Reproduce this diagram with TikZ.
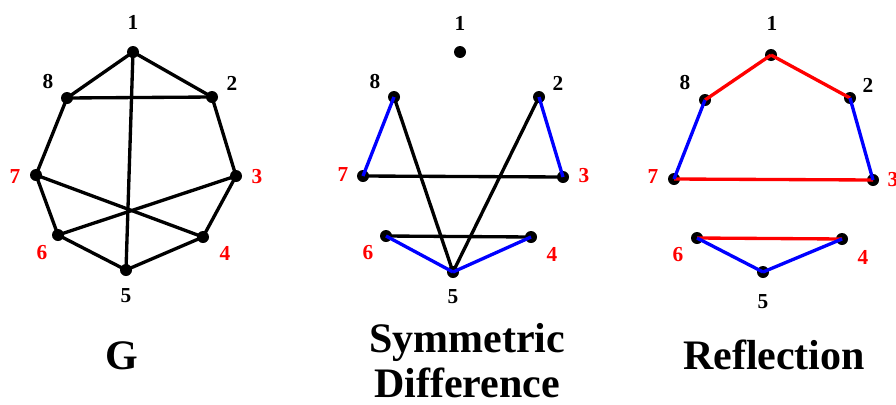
\documentclass[tikz,border=0pt]{standalone}
\usepackage{fontspec}
\setmainfont{Liberation Serif}
\begin{document}
\begin{tikzpicture}[x=0.75pt,y=-0.75pt,
	vtx/.style={circle,fill=black,inner sep=0pt,minimum size=9pt},
	num/.style={font=\fontsize{16}{19}\selectfont\bfseries},
	rnum/.style={num,text=red},
	ttl/.style={font=\fontsize{31.5}{37}\selectfont\bfseries,anchor=base},
	edge/.style={line width=2.5pt},
	bedge/.style={edge,color=blue},
	redge/.style={edge,color=red}]
	\useasboundingbox (0,0) rectangle (896,404);
	
	%G
	\node[vtx] at (133,52) (g1) {};
	\node[vtx] at (212,97) (g2) {};
	\node[vtx] at (236,176) (g3) {};
	\node[vtx] at (203,237) (g4) {};
	\node[vtx] at (126,270) (g5) {};
	\node[vtx] at (58,235) (g6) {};
	\node[vtx] at (36,175) (g7) {};
	\node[vtx] at (67,98) (g8) {};
	\node[num] at (133,22) (gl1) {1};
	\node[num] at (232,83) (gl2) {2};
	\node[rnum] at (257,177) (gl3) {3};
	\node[rnum] at (225,253) (gl4) {4};
	\node[num] at (126,296) (gl5) {5};
	\node[rnum] at (42,253) (gl6) {6};
	\node[rnum] at (15,177) (gl7) {7};
	\node[num] at (48,82) (gl8) {8};
	\foreach \a/\b in {1/8,1/2,8/2,1/5,8/7,2/3,7/4,3/6,7/6,3/4,6/5,4/5}
		\draw[edge] (g\a.center)--(g\b.center);
	\node[ttl] at (122,369) (gttl) {G};
	
	%Symmetric Difference
	\node[vtx] at (460,52) (s1) {};
	\node[vtx] at (539,97) (s2) {};
	\node[vtx] at (563,177) (s3) {};
	\node[vtx] at (531,237) (s4) {};
	\node[vtx] at (453,272) (s5) {};
	\node[vtx] at (386,236) (s6) {};
	\node[vtx] at (363,176) (s7) {};
	\node[vtx] at (394,97) (s8) {};
	\node[num] at (460,23) (sl1) {1};
	\node[num] at (558,83) (sl2) {2};
	\node[rnum] at (584,176) (sl3) {3};
	\node[rnum] at (552,254) (sl4) {4};
	\node[num] at (453,297) (sl5) {5};
	\node[rnum] at (368,253) (sl6) {6};
	\node[rnum] at (343,175) (sl7) {7};
	\node[num] at (375,82) (sl8) {8};
	\foreach \a/\b in {7/3,8/5,2/5,6/4}
		\draw[edge] (s\a.center)--(s\b.center);
	\foreach \a/\b in {8/7,2/3,6/5,4/5}
		\draw[bedge] (s\a.center)--(s\b.center);
	\node[ttl] at (467,352) (sttl) {Symmetric};
	\node[ttl] at (467,397) (sttl2) {Difference};
	
	%Reflection
	\node[vtx] at (771,55) (r1) {};
	\node[vtx] at (850,98) (r2) {};
	\node[vtx] at (873,180) (r3) {};
	\node[vtx] at (842,239) (r4) {};
	\node[vtx] at (763,272) (r5) {};
	\node[vtx] at (697,238) (r6) {};
	\node[vtx] at (674,179) (r7) {};
	\node[vtx] at (705,100) (r8) {};
	\node[num] at (772,23) (rl1) {1};
	\node[num] at (868,85) (rl2) {2};
	\node[rnum] at (893,180) (rl3) {3};
	\node[rnum] at (863,257) (rl4) {4};
	\node[num] at (763,302) (rl5) {5};
	\node[rnum] at (678,255) (rl6) {6};
	\node[rnum] at (653,177) (rl7) {7};
	\node[num] at (685,83) (rl8) {8};
	\foreach \a/\b in {1/8,1/2,7/3,6/4}
		\draw[redge] (r\a.center)--(r\b.center);
	\foreach \a/\b in {8/7,2/3,6/5,4/5}
		\draw[bedge] (r\a.center)--(r\b.center);
	\node[ttl] at (774,369) (rttl) {Reflection};
	
\end{tikzpicture}
\end{document}
